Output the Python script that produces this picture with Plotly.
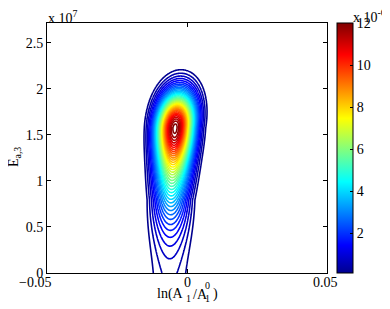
import numpy as np
import plotly.graph_objects as go

# ---------------- axis / tick values ----------------
X_RANGE = [-0.05, 0.05]
Y_RANGE = [0.0, 2.717e7]
X_TICKS = [-0.05, 0.0, 0.05]
X_TICKTEXT = ["\u22120.05", "0", "0.05"]
Y_TICKS = [0.0, 0.5e7, 1.0e7, 1.5e7, 2.0e7, 2.5e7]
Y_TICKTEXT = ["0", "0.5", "1", "1.5", "2", "2.5"]

# ---------------- contour levels / colour range ----------------
LEVEL_START = 0.8e-6
LEVEL_END = 11.9e-6
LEVEL_STEP = 0.3e-6
C_RANGE = [0.1e-6, 12.0e-6]
LINE_C_RANGE = [-0.6e-6, 12.0e-6]
CBAR_TICKS = [2e-6, 4e-6, 6e-6, 8e-6, 10e-6, 12e-6]
CBAR_TICKTEXT = ["2", "4", "6", "8", "10", "12"]

# ---------------- surface shape ----------------
PEAK_Y = 1.576e7
PEAK_VALUE = 12.05e-6
UPPER_SIGMA_Y = 0.272e7
LOWER_FLOOR = 1.0e-6
LOWER_AMPS = [8.4e-6, 2.65e-6]
LOWER_SIGMAS_Y = [0.576e7, 0.203e7]
KNOT_Y = [0.0, 0.7935e7, 1.576e7, 2.196e7]
CENTER_X = [-0.00625, -0.00571, -0.00429, -0.00214]
WIDTH_X = [0.00643, 0.00464, 0.00471, 0.00518]

JET = [[0.0, "rgb(0,0,143)"], [0.111, "rgb(0,0,255)"], [0.365, "rgb(0,255,255)"],
       [0.619, "rgb(255,255,0)"], [0.873, "rgb(255,0,0)"], [1.0, "rgb(128,0,0)"]]

xg = np.linspace(X_RANGE[0], X_RANGE[1], 401)
yg = np.linspace(Y_RANGE[0], Y_RANGE[1], 321)
X, Y = np.meshgrid(xg, yg)
dy = Y - PEAK_Y
upper = PEAK_VALUE * np.exp(-dy ** 2 / (2 * UPPER_SIGMA_Y ** 2))
lower = LOWER_FLOOR + sum(a * np.exp(-dy ** 2 / (2 * s ** 2)) for a, s in zip(LOWER_AMPS, LOWER_SIGMAS_Y))
g = np.where(dy >= 0, upper, lower)
xc = np.interp(Y, KNOT_Y, CENTER_X)
w = np.interp(Y, KNOT_Y, WIDTH_X)
Z = g * np.exp(-(X - xc) ** 2 / (2 * w ** 2))

FONT = dict(family="Liberation Serif", size=14, color="black")
SMALL = dict(family="Liberation Serif", size=10, color="black")

# page body has an 8px margin, so the figure is drawn 8px smaller and offset
OFF = 8
FIG_W, FIG_H = 390 - OFF, 309 - OFF
L, T, W, H = 47 - OFF, 23 - OFF, 280, 250

fig = go.Figure()
fig.add_trace(go.Contour(
    x=xg, y=yg, z=Z, zmin=LINE_C_RANGE[0], zmax=LINE_C_RANGE[1], zauto=False,
    colorscale=JET, showscale=False, autocontour=False,
    contours=dict(coloring="lines", start=LEVEL_START, end=LEVEL_END, size=LEVEL_STEP),
    line=dict(width=1.6), hoverinfo="skip"))

fig.add_trace(go.Scatter(
    x=[X_RANGE[0] - 1, X_RANGE[0] - 1], y=[-1e9, -1e9], mode="markers", showlegend=False,
    hoverinfo="skip",
    marker=dict(size=1, color=C_RANGE, colorscale=JET, cmin=C_RANGE[0], cmax=C_RANGE[1],
                showscale=True,
                colorbar=dict(thickness=16, thicknessmode="pixels", len=1, lenmode="fraction",
                              x=(337 - 47) / W, xanchor="left", y=0.5, yanchor="middle",
                              xpad=0, ypad=0, outlinewidth=1, outlinecolor="black",
                              tickvals=CBAR_TICKS, ticktext=CBAR_TICKTEXT,
                              ticks="inside", ticklen=3, tickcolor="black",
                              tickfont=FONT))))

axis_common = dict(showline=True, linecolor="black", linewidth=1, mirror="ticks",
                   ticks="inside", ticklen=4, tickcolor="black", showgrid=False,
                   zeroline=False, tickfont=FONT)
fig.update_xaxes(range=X_RANGE, tickvals=X_TICKS, showticklabels=False, **axis_common)
fig.update_yaxes(range=Y_RANGE, tickvals=Y_TICKS, ticktext=Y_TICKTEXT, **axis_common)

# helpers: reference-picture pixel -> paper coordinates
def px(xp):
    return (xp - OFF - L) / W
def py(yp):
    return (T + H - (yp - OFF)) / H

ann = []
for xp, t in zip([35, 187, 325], X_TICKTEXT):
    ann.append(dict(x=px(xp), y=py(282), text=t, xanchor="center", yanchor="middle"))
ann.append(dict(x=px(46), y=py(17), text="x 10<sup>7</sup>", xanchor="left", yanchor="middle"))
ann.append(dict(x=px(351), y=py(16), text="x 10<sup>-6</sup>", xanchor="left", yanchor="middle"))
ann.append(dict(x=px(14), y=py(157), text="E<sub>a,3</sub>", textangle=-90,
                xanchor="center", yanchor="middle"))
# x label ln(A_1/A_1^0)
ann.append(dict(x=px(186), y=py(294), text="ln(A", xanchor="right", yanchor="middle"))
ann.append(dict(x=px(188.5), y=py(298), text="1", xanchor="center", yanchor="middle", font=SMALL))
ann.append(dict(x=px(190.5), y=py(294), text="/A", xanchor="left", yanchor="middle"))
ann.append(dict(x=px(207.5), y=py(285), text="0", xanchor="center", yanchor="middle", font=SMALL))
ann.append(dict(x=px(207.5), y=py(298), text="1", xanchor="center", yanchor="middle", font=SMALL))
ann.append(dict(x=px(210.5), y=py(294), text=")", xanchor="left", yanchor="middle"))
for a in ann:
    a.update(xref="paper", yref="paper", showarrow=False)
    a.setdefault("font", FONT)

fig.update_layout(width=FIG_W, height=FIG_H,
                  margin=dict(l=L, r=FIG_W - L - W, t=T, b=FIG_H - T - H),
                  paper_bgcolor="white", plot_bgcolor="white", showlegend=False,
                  font=FONT, annotations=ann)
fig.write_html("out.html")
